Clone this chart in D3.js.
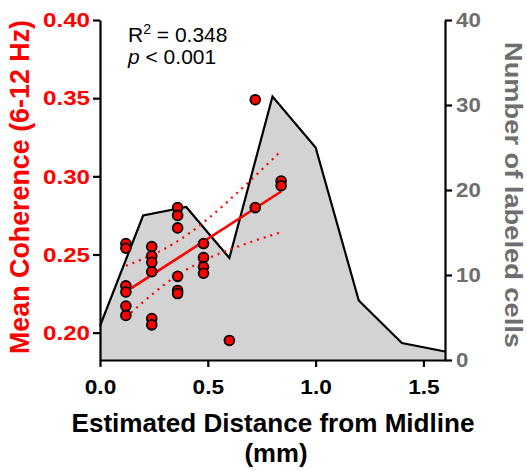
<!DOCTYPE html>
<html lang="en">
<head>
    <meta charset="UTF-8">
    <title>Coherence vs distance</title>
    <script src="https://d3js.org/d3.v7.min.js"></script>
</head>
<style>
    body {
        margin: 0;
        background: #fff;
    }

    svg {
        font-family: "Liberation Sans", Arial, sans-serif;
    }
</style>
<body>
<div class="chart"></div>
<script>
  /** DATA */
  // histogram of labeled cells (right axis)
  var countDistance = [0, 0.2, 0.4, 0.6, 0.8, 1.0, 1.2, 1.4, 1.6];
  var countValues = [4, 17, 18, 12, 31, 25, 7, 2, 1];

  // recording sites (left axis)
  var siteDistance = [
    0.12, 0.12, 0.12, 0.12, 0.12, 0.12,
    0.24, 0.24, 0.24, 0.24, 0.24, 0.24,
    0.36, 0.36, 0.36, 0.36, 0.36, 0.36,
    0.48, 0.48, 0.48, 0.48,
    0.60,
    0.72, 0.72,
    0.84, 0.84
  ];
  var siteCoherence = [
    0.257, 0.254, 0.230, 0.226, 0.217, 0.211,
    0.255, 0.249, 0.245, 0.239, 0.209, 0.205,
    0.280, 0.275, 0.267, 0.236, 0.227, 0.225,
    0.257, 0.248, 0.242, 0.238,
    0.195,
    0.349, 0.280,
    0.297, 0.294
  ];

  var xTicks = [0, 0.5, 1.0, 1.5];
  var leftTicks = [0.20, 0.25, 0.30, 0.35, 0.40];
  var rightTicks = [0, 10, 20, 30, 40];

  /** LAYOUT */
  var width = 527, height = 471;
  var plotLeft = 100, plotRight = 445, plotTop = 20, plotBottom = 360;
  var red = '#ff0000';
  var grey = '#6e6e6e';

  var svg = d3.select('.chart').append('svg')
    .attr('width', width)
    .attr('height', height);

  var x = d3.scaleLinear().domain([0, 1.6]).range([plotLeft, plotRight]);
  var yL = d3.scaleLinear().domain([0.1825, 0.40]).range([plotBottom, plotTop]);
  var yR = d3.scaleLinear().domain([0, 40]).range([plotBottom, plotTop]);

  /** histogram area */
  var counts = countDistance.map(function (d, i) { return [d, countValues[i]]; });

  svg.append('path')
    .datum(counts)
    .attr('fill', '#d3d3d3')
    .attr('d', d3.area()
      .x(function (d) { return x(d[0]); })
      .y0(yR(0))
      .y1(function (d) { return yR(d[1]); }));

  svg.append('path')
    .datum(counts)
    .attr('fill', 'none')
    .attr('stroke', '#000')
    .attr('stroke-width', 2.2)
    .attr('d', d3.line()
      .x(function (d) { return x(d[0]); })
      .y(function (d) { return yR(d[1]); }));

  /** linear fit + 95% confidence band */
  var n = siteDistance.length;
  var mx = d3.mean(siteDistance), my = d3.mean(siteCoherence);
  var sxx = 0, sxy = 0;
  siteDistance.forEach(function (d, i) {
    sxx += (d - mx) * (d - mx);
    sxy += (d - mx) * (siteCoherence[i] - my);
  });
  var slope = sxy / sxx;
  var icept = my - slope * mx;
  var sse = 0;
  siteDistance.forEach(function (d, i) {
    var r = siteCoherence[i] - (icept + slope * d);
    sse += r * r;
  });
  var se = Math.sqrt(sse / (n - 2));
  var tCrit = 2.06;
  var xMin = d3.min(siteDistance), xMax = d3.max(siteDistance);
  var band = d3.range(0, 21).map(function (k) {
    var xv = xMin + (xMax - xMin) * k / 20;
    var half = tCrit * se * Math.sqrt(1 / n + (xv - mx) * (xv - mx) / sxx);
    var fit = icept + slope * xv;
    return { x: xv, lo: fit - half, hi: fit + half };
  });

  ['lo', 'hi'].forEach(function (key) {
    svg.append('path')
      .datum(band)
      .attr('fill', 'none')
      .attr('stroke', red)
      .attr('stroke-width', 2.2)
      .attr('stroke-dasharray', '2,5')
      .attr('d', d3.line()
        .x(function (d) { return x(d.x); })
        .y(function (d) { return yL(d[key]); }));
  });

  svg.append('line')
    .attr('x1', x(xMin))
    .attr('y1', yL(icept + slope * xMin))
    .attr('x2', x(xMax))
    .attr('y2', yL(icept + slope * xMax))
    .attr('stroke', red)
    .attr('stroke-width', 2.6);

  /** points */
  svg.append('g')
    .selectAll('circle')
    .data(siteDistance)
    .enter().append('circle')
    .attr('cx', function (d) { return x(d); })
    .attr('cy', function (d, i) { return yL(siteCoherence[i]); })
    .attr('r', 4.9)
    .attr('fill', red)
    .attr('stroke', '#000')
    .attr('stroke-width', 1.8);

  /** axes */
  // tick labels in the original are a bit wider than Liberation Sans
  function styleAxis(g, colour, stretch) {
    g.selectAll('.domain').attr('stroke', '#000').attr('stroke-width', 2.2);
    g.selectAll('.tick line').attr('stroke', '#000').attr('stroke-width', 2.2);
    g.selectAll('.tick text')
      .attr('fill', colour)
      .style('font-size', '21px')
      .style('font-weight', 'bold')
      .each(function () {
        var w = this.getComputedTextLength();
        d3.select(this)
          .attr('textLength', w * stretch)
          .attr('lengthAdjust', 'spacingAndGlyphs');
      });
  }

  svg.append('g')
    .attr('transform', 'translate(0,' + plotBottom + ')')
    .call(d3.axisBottom(x).tickValues(xTicks).tickFormat(d3.format('.1f'))
      .tickSizeInner(7).tickSizeOuter(0).tickPadding(12))
    .call(styleAxis, '#000', 1.08);

  svg.append('g')
    .attr('transform', 'translate(' + plotLeft + ',0)')
    .call(d3.axisLeft(yL).tickValues(leftTicks).tickFormat(d3.format('.2f'))
      .tickSizeInner(7).tickSizeOuter(0).tickPadding(3))
    .call(styleAxis, red, 1.15);

  svg.append('g')
    .attr('transform', 'translate(' + plotRight + ',0)')
    .call(d3.axisRight(yR).tickValues(rightTicks)
      .tickSizeInner(7).tickSizeOuter(0).tickPadding(4))
    .call(styleAxis, grey, 1.06);

  /** titles */
  svg.append('text')
    .attr('transform', 'translate(29,187) rotate(-90)')
    .attr('text-anchor', 'middle')
    .attr('fill', red)
    .attr('textLength', 334)
    .attr('lengthAdjust', 'spacingAndGlyphs')
    .style('font-size', '28px')
    .style('font-weight', 'bold')
    .text('Mean Coherence (6-12 Hz)');

  svg.append('text')
    .attr('transform', 'translate(505,195) rotate(90)')
    .attr('text-anchor', 'middle')
    .attr('fill', grey)
    .attr('textLength', 306)
    .attr('lengthAdjust', 'spacingAndGlyphs')
    .style('font-size', '24px')
    .style('font-weight', 'bold')
    .text('Number of labeled cells');

  svg.append('text')
    .attr('x', 273)
    .attr('y', 432)
    .attr('text-anchor', 'middle')
    .attr('textLength', 403)
    .attr('lengthAdjust', 'spacingAndGlyphs')
    .style('font-size', '25px')
    .style('font-weight', 'bold')
    .text('Estimated Distance from Midline');

  svg.append('text')
    .attr('x', 276)
    .attr('y', 462)
    .attr('text-anchor', 'middle')
    .attr('textLength', 63)
    .attr('lengthAdjust', 'spacingAndGlyphs')
    .style('font-size', '25px')
    .style('font-weight', 'bold')
    .text('(mm)');

  /** stats annotation */
  var r2 = svg.append('text')
    .attr('x', 128)
    .attr('y', 42)
    .style('font-size', '21px');
  r2.append('tspan').text('R');
  r2.append('tspan').attr('dy', -8).style('font-size', '14px').text('2');
  r2.append('tspan').attr('dy', 8).text(' = 0.348');

  var pv = svg.append('text')
    .attr('x', 128)
    .attr('y', 64)
    .style('font-size', '21px');
  pv.append('tspan').style('font-style', 'italic').text('p');
  pv.append('tspan').text(' < 0.001');
</script>
</body>
</html>
